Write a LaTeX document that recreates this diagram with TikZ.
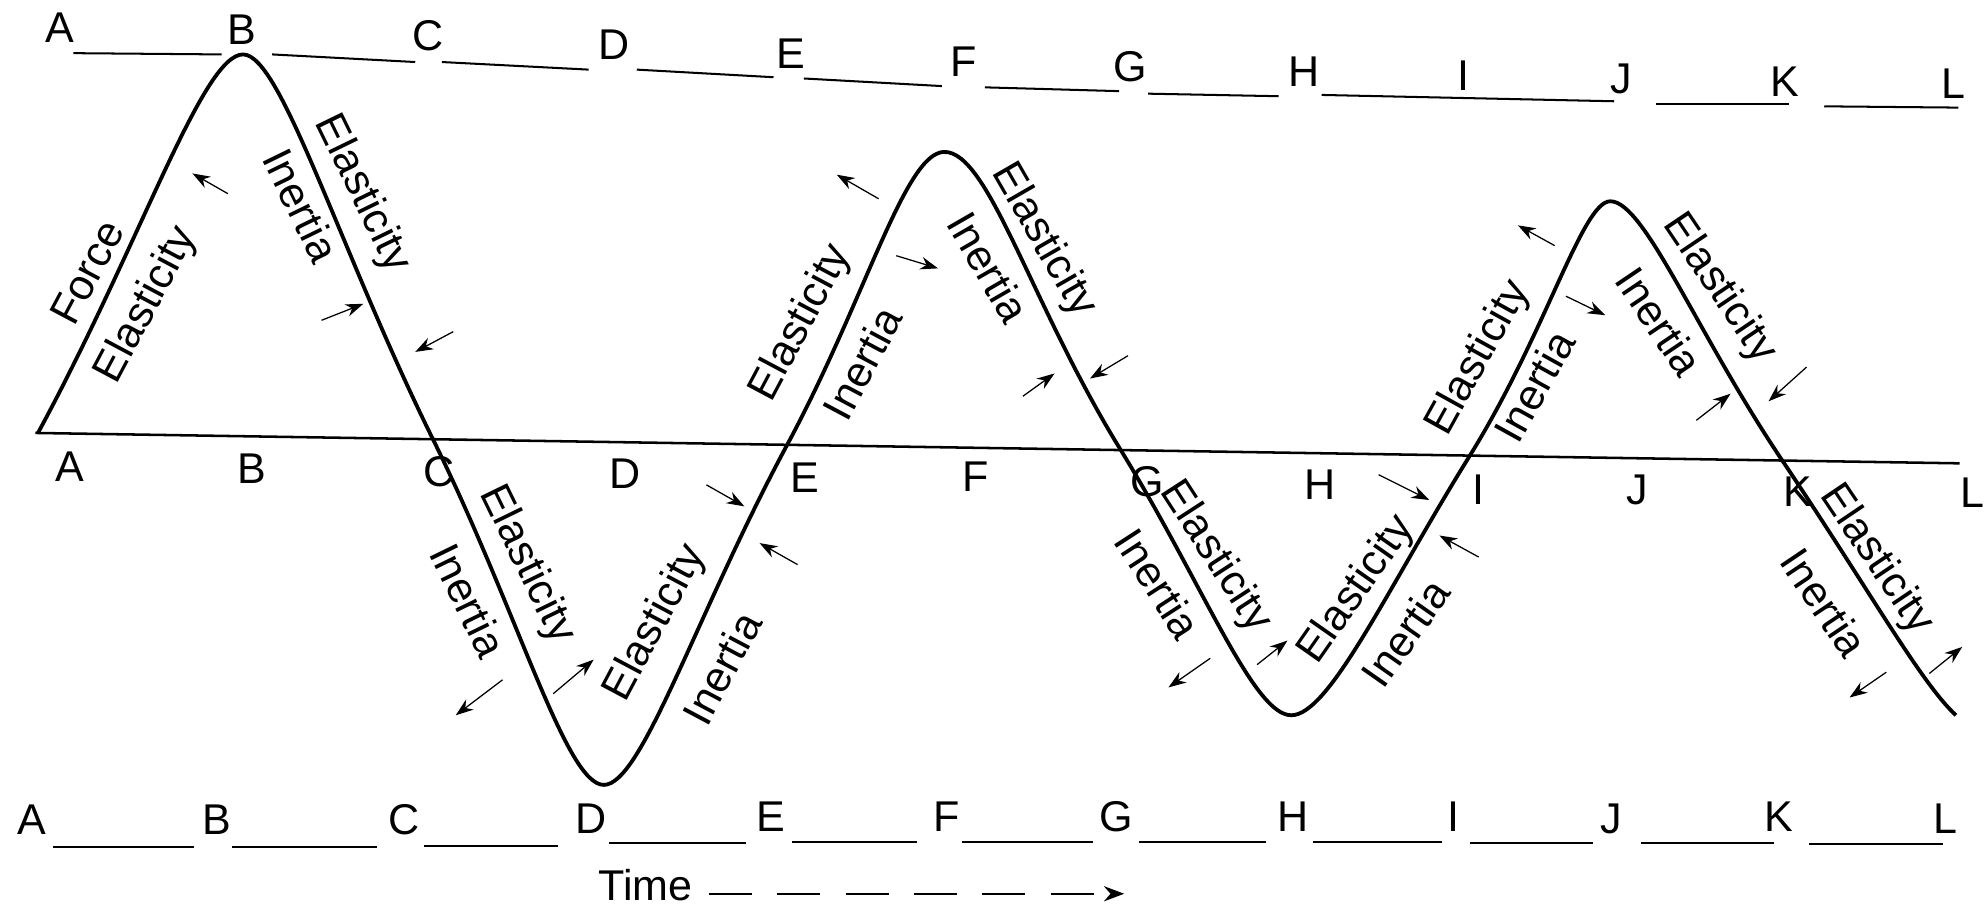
\documentclass[tikz,border=0pt]{standalone}
\usepackage{fontspec}
\setmainfont{Liberation Sans}
\usetikzlibrary{arrows.meta}

\begin{document}
\begin{tikzpicture}[x=0.5pt,y=-0.5pt,
  tag/.style={font=\fontsize{17}{20}\selectfont,inner sep=0pt,text height=12.2pt,text depth=0pt},
  lbl/.style={font=\fontsize{17}{20}\selectfont,inner sep=0pt},
  push/.style={line width=0.5pt,-{Stealth[length=7pt,width=5pt]}},
  wave/.style={line width=1.5pt,line join=round}]
\useasboundingbox (0,0) rectangle (1568,716);

% top row of letters and rule
\foreach \n/\x/\y in {A/47/21,B/191/23,C/338/28,D/485/35,E/625/42,F/761/48,
                     G/893/52,H/1030/56,I/1156/59,J/1281/62,K/1410/64,L/1543/66}
  \node[tag] (t\n) at (\x,\y) {\n};
\foreach \xa/\ya/\xb/\yb in {58/42/175/43,215/43/328/49,349/49/465/55,503/55/611/61,
    635/62/744/68,778/69/884/72,907/74/1010/76,1044/75/1275/80,1308/82/1413/82,1441/84/1547/85}
  \draw[line width=0.8pt] (\xa,\ya) -- (\xb,\yb);

% middle axis
\draw[line width=1pt] (28,342) -- (1548,366);
\foreach \n/\x/\y in {A/55/368,B/199/370,C/347/372,D/494/374,E/636/377,F/771/376,
                     G/906/380,H/1043/382,I/1168/386,J/1293/386,K/1420/388,L/1558/389}
  \node[tag] (m\n) at (\x,\y) {\n};

% bottom row of letters and rule
\foreach \n/\x/\y in {A/25/647,B/171/647,C/319/647,D/467/646,E/609/645,F/748/645,
                     G/882/645,H/1021/645,I/1148/645,J/1273/646,K/1405/645,L/1537/646}
  \node[tag] (b\n) at (\x,\y) {\n};
\foreach \xa/\xb/\y in {42/153/669,183/298/669,335/441/668,481/589/666,626/724/665,
    760/863/665,900/1000/665,1037/1139/665,1161/1258/666,1296/1401/666,1429/1535/667}
  \draw[line width=0.8pt] (\xa,\y) -- (\xb,\y);

% time
\node[tag] (time) at (510,699) {Time};
\coordinate (t0) at (560,706);
\coordinate (t1) at (888,706);
\draw[line width=0.8pt,dash pattern=on 17pt off 10pt,-{Stealth[length=8pt,width=6pt]}] (t0) -- (t1);

% damped wave
\draw[wave] (30,342) .. controls (111,192.5) and (160,43) .. (192,43)
  .. controls (222,43) and (267,195) .. (342,347)
  .. controls (409.5,483.6) and (447,620) .. (477,620)
  .. controls (507,620) and (549.6,485.6) .. (622,351)
  .. controls (684.1,235.5) and (715,120) .. (746,120)
  .. controls (781,120) and (813.5,238.7) .. (885,355)
  .. controls (950.4,461.3) and (990,565) .. (1020,565)
  .. controls (1050,565) and (1095.4,465.7) .. (1161,360)
  .. controls (1221.5,262.4) and (1250,159) .. (1272,159)
  .. controls (1299,159) and (1339.4,261.9) .. (1408,364)
  .. controls (1475.9,464.9) and (1517,539) .. (1545,565);

% labels along the wave
\node[lbl,rotate=62]  (forceAB) at (69,215)   {Force};
\node[lbl,rotate=62]  (elAB)    at (116,241)  {Elasticity};
\node[lbl,rotate=-64] (inBC)    at (238,162)  {Inertia};
\node[lbl,rotate=-64] (elBC)    at (286,153)  {Elasticity};
\node[lbl,rotate=-64] (inCD)    at (370,474)  {Inertia};
\node[lbl,rotate=-64] (elCD)    at (416,446)  {Elasticity};
\node[lbl,rotate=62]  (elDE)    at (518,492)  {Elasticity};
\node[lbl,rotate=62]  (inDE)    at (570,528)  {Inertia};
\node[lbl,rotate=62]  (elEF)    at (633,255)  {Elasticity};
\node[lbl,rotate=62]  (inEF)    at (681,287)  {Inertia};
\node[lbl,rotate=-60] (inFG)    at (781,211)  {Inertia};
\node[lbl,rotate=-60] (elFG)    at (824,190)  {Elasticity};
\node[lbl,rotate=-57] (inGH)    at (915,461)  {Inertia};
\node[lbl,rotate=-57] (elGH)    at (960,440)  {Elasticity};
\node[lbl,rotate=55]  (elHI)    at (1072,466) {Elasticity};
\node[lbl,rotate=55]  (inHI)    at (1110,500) {Inertia};
\node[lbl,rotate=61]  (elIJ)    at (1168,283) {Elasticity};
\node[lbl,rotate=61]  (inIJ)    at (1212,305) {Inertia};
\node[lbl,rotate=-56] (inJK)    at (1311,254) {Inertia};
\node[lbl,rotate=-56] (elJK)    at (1358,228) {Elasticity};
\node[lbl,rotate=-56] (inKL)    at (1441,476) {Inertia};
\node[lbl,rotate=-56] (elKL)    at (1482,442) {Elasticity};

% small force arrows
\foreach \xa/\ya/\xb/\yb in {180/153/152/137, 254/253/287/240, 358/262/328/278,
    397/537/360/565, 437/548/469/521, 558/383/588/400, 630/446/600/429,
    694/157/661/138, 708/202/741/212, 808/313/833/295, 891/281/861/299,
    956/520/923/543, 993/525/1017/506, 1089/375/1129/395, 1168/440/1137/423,
    1228/194/1199/178, 1237/234/1268/249, 1340/332/1367/311, 1427/290/1397/317,
    1490/531/1461/551, 1524/532/1550/511}
  \draw[push] (\xa,\ya) -- (\xb,\yb);
\end{tikzpicture}
\end{document}
